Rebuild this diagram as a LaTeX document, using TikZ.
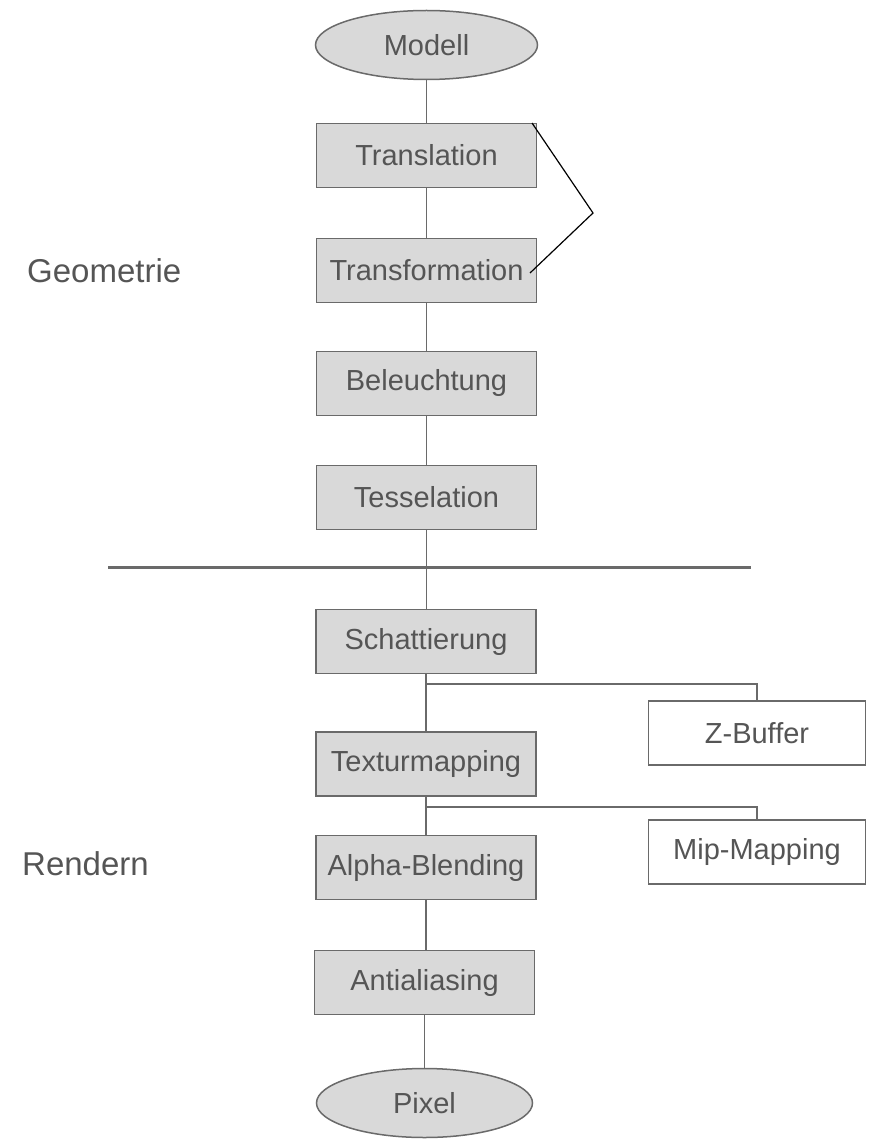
\documentclass[tikz,border=0pt]{standalone}
\usepackage{fontspec}
\setmainfont{Liberation Sans}
\usetikzlibrary{shapes.geometric}
\definecolor{boxfill}{HTML}{D9D9D9}
\definecolor{edge}{HTML}{6A6A6A}
\definecolor{ink}{HTML}{555555}
\begin{document}
\begin{tikzpicture}[x=1pt,y=-1pt,
  stage/.style={draw=edge, line width=1.5pt, fill=boxfill, rectangle,
    minimum width=220pt, minimum height=64pt, inner sep=0pt,
    text=ink, font=\fontsize{29}{32}\selectfont},
  aux/.style={stage, fill=white, minimum width=217pt},
  term/.style={draw=edge, line width=1.5pt, fill=boxfill, ellipse,
    minimum width=222pt, minimum height=69pt, inner sep=0pt,
    text=ink, font=\fontsize{29}{32}\selectfont},
  phase/.style={anchor=base west, inner sep=0pt, text=ink,
    font=\fontsize{33}{36}\selectfont},
  link/.style={draw=edge, line width=1.5pt},
  brace/.style={draw=black, line width=1.2pt},
  divider/.style={draw=edge, line width=3pt}]
\useasboundingbox (0,0) rectangle (868,1139);

% pipeline stages
\node[term]  (modell) at (426.5,45)    {Modell};
\node[stage] (transl) at (426.5,155.5) {Translation};
\node[stage] (transf) at (426.5,270.5) {Transformation};
\node[stage] (beleu)  at (426.5,383.5) {Beleuchtung};
\node[stage] (tess)   at (426.5,497.5) {Tesselation};
\node[stage] (schat)  at (426,641.5)   {Schattierung};
\node[stage] (textur) at (426,764)     {Texturmapping};
\node[stage] (alpha)  at (426,867.5)   {Alpha-Blending};
\node[stage] (anti)   at (424.5,982.5) {Antialiasing};
\node[term, minimum width=216pt] (pixel) at (424.5,1103) {Pixel};

% side units
\node[aux] (zbuf) at (757,733) {Z-Buffer};
\node[aux] (mip)  at (757,852) {Mip-Mapping};

% phase labels
\node[phase] (geo) at (27,283) {Geometrie};
\node[phase] (ren) at (22,875) {Rendern};

% vertical chain
\draw[link] (modell.south) -- (modell.south |- transl.north);
\draw[link] (transl.south) -- (transl.south |- transf.north);
\draw[link] (transf.south) -- (transf.south |- beleu.north);
\draw[link] (beleu.south)  -- (beleu.south |- tess.north);
\draw[link] (tess.south)   -- (tess.south |- schat.north);
\draw[link] (schat.south)  -- (schat.south |- textur.north);
\draw[link] (textur.south) -- (textur.south |- alpha.north);
\draw[link] (alpha.south)  -- (alpha.south |- anti.north);
\draw[link] (anti.south)   -- (anti.south |- pixel.north);

% branches to the side units
\coordinate (fork1) at (426,684);
\coordinate (fork2) at (426,807);
\draw[link] (fork1) -| (zbuf.north);
\draw[link] (fork2) -| (mip.north);

% bracket grouping translation and transformation
\coordinate (br1) at (532,123);
\coordinate (br2) at (593,213);
\coordinate (br3) at (530,273);
\draw[brace] (br1) -- (br2) -- (br3);

% separator between geometry and rendering
\coordinate (sepl) at (108,567);
\coordinate (sepr) at (751,567);
\draw[divider] (sepl) -- (sepr);
\end{tikzpicture}
\end{document}
